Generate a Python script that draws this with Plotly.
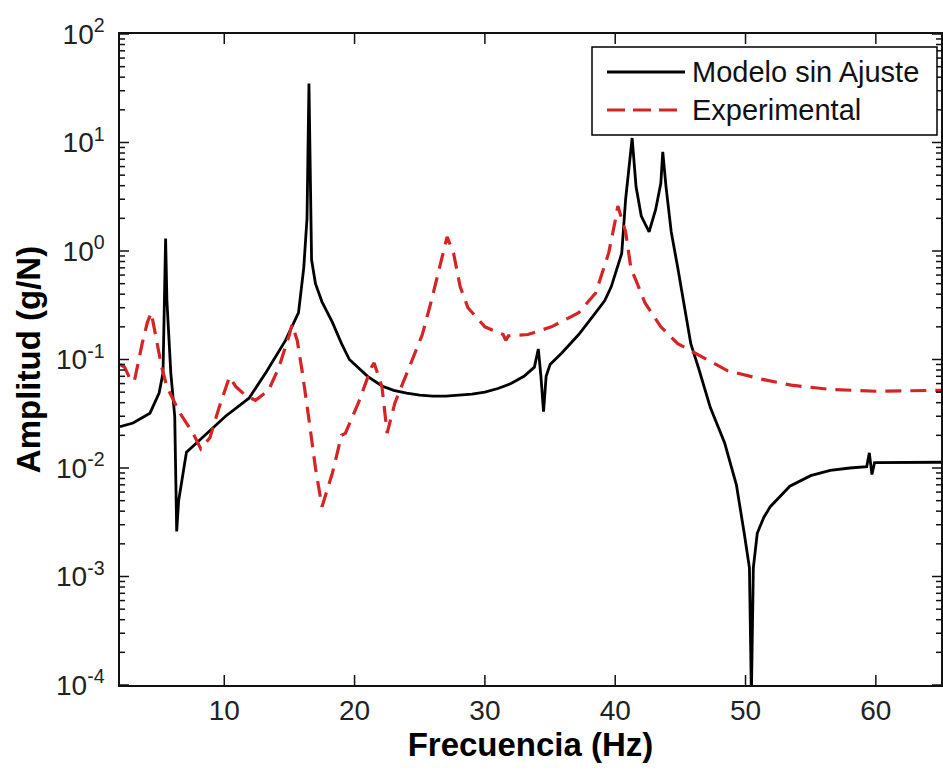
import math
import plotly.graph_objects as go

# ---- data ----
name_model = "Modelo sin Ajuste"
name_exp = "Experimental"

model_freq = [2.0, 3.0, 4.3, 5.0, 5.3, 5.4, 5.5, 5.6, 5.9, 6.2, 6.35,
              6.5, 6.8, 7.1, 8.1, 10.1, 11.9, 13.2, 14.7, 15.7, 16.1, 16.35, 16.5, 16.6,
              16.7, 17.0, 17.5, 18.3, 19.0, 19.6, 21, 22.1, 23, 24, 25, 26, 27, 28, 29, 30, 31, 32, 33,
              33.8, 34.1, 34.3, 34.5, 34.7, 35, 35.9, 37.2, 38.5, 39.2, 39.7, 40.5, 40.8, 41.1, 41.3,
              41.6, 42.0, 42.6, 43.1, 43.5, 43.65, 43.9, 44.3, 44.8, 45.3, 45.8, 46.4, 47.3, 48.4,
              49.3, 49.9, 50.3, 50.45, 50.6, 50.9, 51.4, 51.9, 53.4, 55, 56.5, 58, 59.3, 59.5, 59.7,
              59.9, 62, 65]
model_amp = [0.024, 0.026, 0.032, 0.049, 0.075, 0.4, 1.3, 0.35, 0.075, 0.03, 0.0026,
             0.005, 0.0083, 0.014, 0.018, 0.03, 0.044, 0.076, 0.15, 0.27, 0.7, 2.0, 35, 6.0,
             0.83, 0.5, 0.34, 0.22, 0.14, 0.1, 0.07, 0.057, 0.052, 0.049, 0.047, 0.046, 0.046, 0.047,
             0.048, 0.05, 0.054, 0.06, 0.07, 0.085, 0.125, 0.07, 0.033, 0.07, 0.09, 0.115, 0.17, 0.27,
             0.35, 0.47, 0.95, 3.0, 6.9, 11, 3.9, 2.1, 1.5, 2.4, 4.2, 8.2, 3.9, 1.5, 0.7, 0.3, 0.14,
             0.083, 0.036, 0.017, 0.007, 0.0025, 0.0012, 0.00008, 0.0012, 0.0025, 0.0035, 0.0044,
             0.0068, 0.0085, 0.0095, 0.0100, 0.0103, 0.0138, 0.0087, 0.0112, 0.0112, 0.0113]

exp_freq = [2.0, 2.35, 2.8, 3.1, 3.7, 4.1, 4.4, 4.8, 5.2, 5.6, 6.6, 7.6, 8.2, 8.9, 9.6, 10.4, 10.9,
            11.7, 12.4, 13.4, 14.2, 15.0, 15.2, 15.6, 16.0, 16.5, 17.0, 17.5, 18.3, 19.0, 19.3, 20.3,
            21.3, 21.5, 22.1, 22.5, 23.1, 24.2, 25.2, 25.9, 26.5, 27.1, 27.6, 28.1, 28.7, 30.0, 31.4,
            31.6, 31.8, 33.3, 35.1, 37.2, 38.5, 39.5, 40.0, 40.2, 40.8, 41.2, 42.3, 43.5, 44.8, 46.1,
            48.6, 51.2, 53.5, 56.5, 60, 65]
exp_amp = [0.09, 0.085, 0.065, 0.063, 0.14, 0.22, 0.27, 0.15, 0.085, 0.056, 0.032, 0.021, 0.015,
           0.019, 0.036, 0.069, 0.056, 0.046, 0.042, 0.052, 0.085, 0.17, 0.21, 0.15, 0.075, 0.028,
           0.01, 0.0044, 0.009, 0.02, 0.021, 0.04, 0.085, 0.093, 0.056, 0.021, 0.04, 0.085, 0.17, 0.35,
           0.7, 1.35, 0.95, 0.47, 0.3, 0.2, 0.17, 0.15, 0.165, 0.17, 0.2, 0.27, 0.41, 0.96, 1.9, 2.6,
           1.5, 0.7, 0.33, 0.2, 0.14, 0.115, 0.079, 0.066, 0.058, 0.053, 0.051, 0.052]

x_range = [2, 65]
x_ticks = [10, 20, 30, 40, 50, 60]
y_exps = [-4, -3, -2, -1, 0, 1, 2]

FONT = "Liberation Sans, Arial, sans-serif"
RED = "#d42424"
AX = "#111111"

fig = go.Figure()
fig.add_trace(go.Scatter(x=model_freq, y=model_amp, mode="lines", name=name_model,
                         line=dict(color="black", width=2.8)))
fig.add_trace(go.Scatter(x=exp_freq, y=exp_amp, mode="lines", name=name_exp,
                         line=dict(color=RED, width=3.2, dash="16px,9px")))

y_range = [y_exps[0], y_exps[-1]]
y_tickvals = [10.0 ** e for e in y_exps]
y_ticktext = ["10<sup>%d</sup>" % e for e in y_exps]
y_minor = [m * 10.0 ** e for e in y_exps[:-1] for m in range(2, 10)]

fig.update_xaxes(range=x_range, tickvals=x_ticks, ticks="",
                 showline=True, linecolor=AX, linewidth=1.5, mirror=True, showgrid=False,
                 zeroline=False, tickfont=dict(family=FONT, size=28, color="#222"),
                 title=dict(text="<b>Frecuencia (Hz)</b>", font=dict(family=FONT, size=33, color="black"),
                            standoff=8))
fig.update_yaxes(type="log", range=y_range, tickvals=y_tickvals, ticktext=y_ticktext, ticks="",
                 showline=True, linecolor=AX, linewidth=1.5, mirror=True,
                 showgrid=False, zeroline=False, ticklabelstandoff=8,
                 tickfont=dict(family=FONT, size=28, color="#222"),
                 title=dict(text="<b>Amplitud (g/N)</b>", font=dict(family=FONT, size=33, color="black"),
                            standoff=6))

W, H = 943, 771
L, R, T, B = 120, 2, 34, 86
pw, ph = W - L - R, H - T - B

# inward tick marks on all four sides (MATLAB box style), placed from the tick value lists
def add_tick_x(v, length):
    for y0, y1 in ((0, length / ph), (1 - length / ph, 1)):
        fig.add_shape(type="line", xref="x", yref="paper", x0=v, x1=v, y0=y0, y1=y1,
                      line=dict(color=AX, width=1.5), layer="above")

def add_tick_y(v, length):
    yp = (math.log10(v) - y_range[0]) / (y_range[1] - y_range[0])
    for x0, x1 in ((0, length / pw), (1 - length / pw, 1)):
        fig.add_shape(type="line", xref="paper", yref="paper", x0=x0, x1=x1, y0=yp, y1=yp,
                      line=dict(color=AX, width=1.5), layer="above")

for v in x_ticks:
    add_tick_x(v, 10)
for v in y_tickvals:
    add_tick_y(v, 9)
for v in y_minor:
    add_tick_y(v, 5)

# legend box drawn in paper coordinates (MATLAB-style legend)
def px(x):
    return (x - L) / pw
def py(y):
    return (H - B - y) / ph

fig.add_shape(type="rect", xref="paper", yref="paper", x0=px(592), x1=px(937), y0=py(135), y1=py(47),
              line=dict(color="black", width=1.5), fillcolor="white", layer="above")
fig.add_shape(type="line", xref="paper", yref="paper", x0=px(607), x1=px(685), y0=py(72), y1=py(72),
              line=dict(color="black", width=2.8), layer="above")
fig.add_shape(type="line", xref="paper", yref="paper", x0=px(607), x1=px(685), y0=py(110), y1=py(110),
              line=dict(color=RED, width=3.2, dash="18px,8px"), layer="above")
fig.add_annotation(xref="paper", yref="paper", x=px(690), y=py(72), text=name_model, showarrow=False,
                   xanchor="left", yanchor="middle", font=dict(family=FONT, size=29, color="#111"))
fig.add_annotation(xref="paper", yref="paper", x=px(690), y=py(110), text=name_exp, showarrow=False,
                   xanchor="left", yanchor="middle", font=dict(family=FONT, size=29, color="#111"))

fig.update_layout(width=W, height=H, margin=dict(l=L, r=R, t=T, b=B, autoexpand=False),
                  paper_bgcolor="white", plot_bgcolor="white", showlegend=False)

fig.write_html("out.html")
